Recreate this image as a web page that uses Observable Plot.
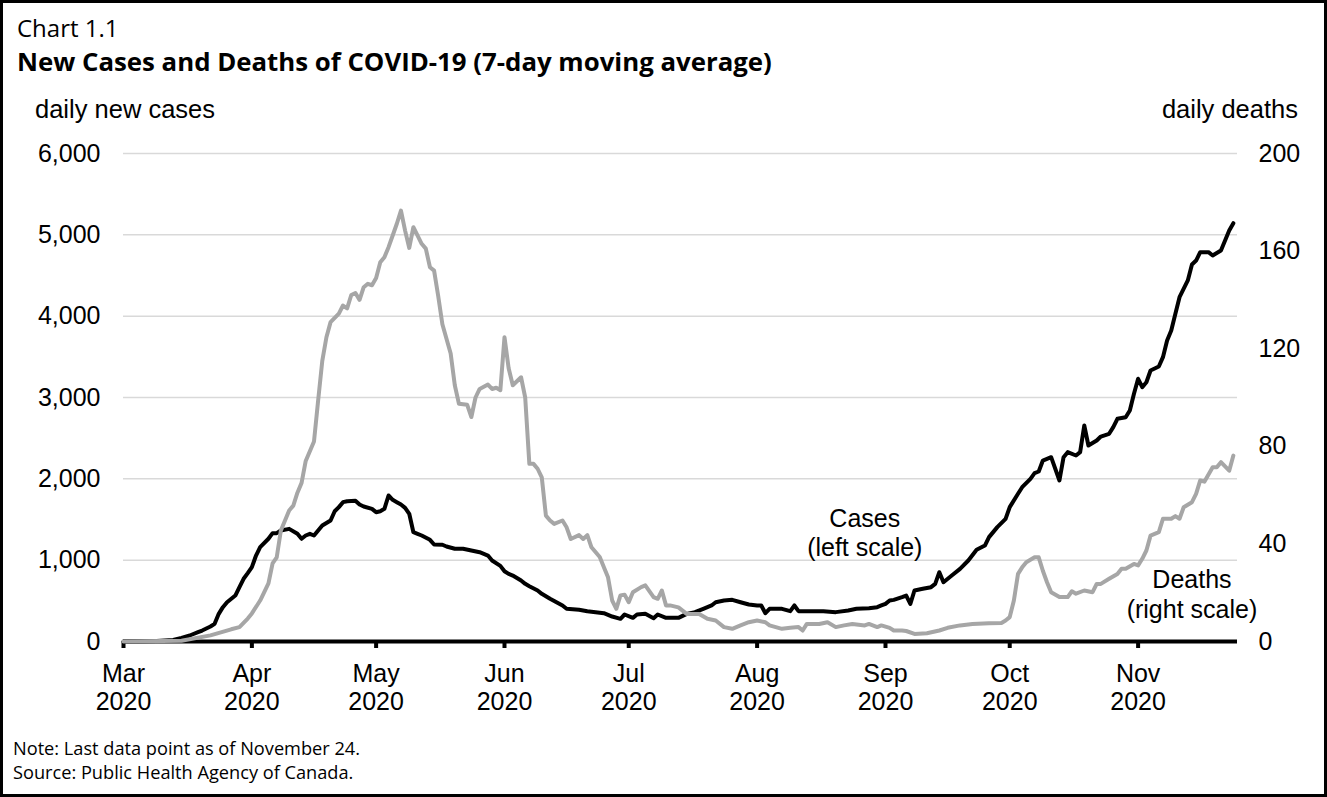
<!DOCTYPE html>
<html>
<head>
<meta charset="utf-8">
<script src="https://cdn.jsdelivr.net/npm/d3@7"></script>
<script src="https://cdn.jsdelivr.net/npm/@observablehq/plot@0.6"></script>
<style>
  body { margin: 0; background: #fff; }
  #page { position: relative; width: 1327px; height: 797px; overflow: hidden; background: #fff; }
  #frame { position: absolute; left: 0; top: 0; width: 1327px; height: 797px; box-sizing: border-box; border: 3px solid #000; z-index: 5; pointer-events: none; }
  .t { position: absolute; white-space: nowrap; line-height: 1; color: #000; }
  #chartno { left: 17px; top: 15.5px; font-family: "Open Sans", "Noto Sans", sans-serif; font-size: 24px; }
  #title { left: 17px; top: 49px; font-family: "Open Sans", "Noto Sans", sans-serif; font-size: 25.8px; font-weight: 700; }
  #ylabL { left: 35px; top: 97px; font-family: "Liberation Sans", Arial, sans-serif; font-size: 25.5px; }
  #ylabR { right: 29px; top: 97px; font-family: "Liberation Sans", Arial, sans-serif; font-size: 25.5px; }
  #notes { left: 13px; top: 736px; font-family: "Open Sans", "Noto Sans", sans-serif; font-size: 18.2px; line-height: 24px; }
  #plot { position: absolute; left: 0; top: 130px; }
</style>
</head>
<body>
<div id="page">
  <div id="frame"></div>
  <div class="t" id="chartno">Chart 1.1</div>
  <div class="t" id="title">New Cases and Deaths of COVID-19 (7-day moving average)</div>
  <div class="t" id="ylabL">daily new cases</div>
  <div class="t" id="ylabR">daily deaths</div>
  <div id="plot"></div>
  <div class="t" id="notes">Note: Last data point as of November 24.<br>Source: Public Health Agency of Canada.</div>
</div>
<script>
// ---- data ----
const year = 2020;

// daily new cases, 7-day moving average (left scale)
const cases = [
  ["03-01",0],["03-09",5],["03-13",20],["03-15",45],["03-17",74],["03-19",115],["03-20",135],
  ["03-22",184],["03-23",217],["03-24",340],["03-25",422],["03-26",483],["03-28",565],["03-29",668],
  ["03-30",771],["03-31",840],["04-01",914],["04-02",1057],["04-03",1160],["04-05",1263],["04-06",1332],
  ["04-07",1332],["04-08",1365],["04-10",1385],["04-12",1324],["04-13",1263],["04-14",1303],["04-15",1324],
  ["04-16",1303],["04-17",1365],["04-18",1426],["04-20",1488],["04-21",1602],["04-22",1652],["04-23",1713],
  ["04-24",1725],["04-26",1730],["04-27",1684],["04-28",1660],["04-30",1631],["05-01",1590],["05-02",1602],
  ["05-03",1631],["05-04",1795],["05-05",1742],["05-06",1713],["05-07",1684],["05-08",1643],["05-09",1570],
  ["05-10",1344],["05-11",1324],["05-12",1303],["05-14",1250],["05-15",1193],["05-17",1190],["05-18",1168],
  ["05-20",1140],["05-22",1140],["05-24",1119],["05-26",1098],["05-28",1057],["05-29",996],["05-31",930],
  ["06-01",864],["06-02",832],["06-03",811],["06-05",750],["06-06",709],["06-07",680],["06-09",627],
  ["06-10",586],["06-12",525],["06-15",443],["06-16",402],["06-19",390],["06-21",373],["06-23",361],
  ["06-25",348],["06-27",307],["06-29",279],["06-30",332],["07-02",291],["07-03",332],["07-05",340],
  ["07-07",287],["07-08",332],["07-10",291],["07-13",291],["07-15",340],["07-17",361],["07-19",402],
  ["07-21",443],["07-22",483],["07-24",504],["07-26",512],["07-28",483],["07-30",455],["08-01",443],
  ["08-02",443],["08-03",348],["08-04",402],["08-07",402],["08-09",373],["08-10",443],["08-11",373],
  ["08-14",373],["08-17",373],["08-20",361],["08-23",381],["08-25",402],["08-28",410],["08-30",422],
  ["08-31",443],["09-01",463],["09-02",504],["09-03",512],["09-05",545],["09-06",565],["09-07",463],
  ["09-08",627],["09-10",648],["09-12",668],["09-13",709],["09-14",852],["09-15",729],["09-17",811],
  ["09-19",893],["09-21",996],["09-23",1127],["09-25",1180],["09-26",1283],["09-28",1406],["09-30",1508],
  ["10-01",1652],["10-03",1816],["10-04",1897],["10-06",2000],["10-07",2070],["10-08",2090],["10-09",2225],
  ["10-11",2266],["10-13",1980],["10-14",2266],["10-15",2328],["10-17",2287],["10-18",2328],["10-19",2656],
  ["10-20",2410],["10-22",2471],["10-23",2520],["10-25",2554],["10-26",2635],["10-27",2738],["10-29",2758],
  ["10-30",2840],["10-31",3045],["11-01",3230],["11-02",3127],["11-03",3188],["11-04",3332],["11-06",3381],
  ["11-07",3496],["11-08",3701],["11-09",3824],["11-10",4029],["11-11",4233],["11-13",4439],["11-14",4635],
  ["11-15",4684],["11-16",4787],["11-18",4787],["11-19",4746],["11-21",4807],["11-22",4930],["11-23",5053],
  ["11-24",5143]
];

// daily deaths, 7-day moving average (right scale)
const deaths = [
  ["03-01",0],["03-15",0.3],["03-22",2.5],["03-27",5],["03-29",5.9],["03-31",9.4],["04-01",11.5],
  ["04-03",16.8],["04-05",23.8],["04-06",32],["04-07",34.5],["04-08",45.5],["04-10",53.7],["04-11",55.7],
  ["04-12",61],["04-13",65],["04-14",74],["04-16",82],["04-17",98.8],["04-18",115],["04-19",124.7],
  ["04-20",130.9],["04-22",134.4],["04-23",137.7],["04-24",136.5],["04-25",142],["04-26",142.8],["04-27",140],
  ["04-28",145.2],["04-29",146.6],["04-30",146],["05-01",149],["05-02",155.4],["05-03",157.5],["05-04",161.6],
  ["05-05",166.4],["05-06",171.2],["05-07",176.6],["05-08",168.4],["05-09",161.3],["05-10",169.8],["05-12",163],
  ["05-13",161],["05-14",153.4],["05-15",152],["05-16",141.5],["05-17",130],["05-19",118],["05-20",105],
  ["05-21",97.4],["05-23",97],["05-24",92],["05-25",100],["05-26",103.5],["05-28",105.3],["05-29",103.5],
  ["05-30",104],["05-31",103],["06-01",124.7],["06-02",112],["06-03",105],["06-05",108.3],["06-06",100],
  ["06-07",72.8],["06-08",72.8],["06-09",70.8],["06-10",67.3],["06-11",51.6],["06-12",49.6],["06-13",48.2],
  ["06-15",49.6],["06-16",46.8],["06-17",42],["06-19",43.6],["06-20",42],["06-21",43.6],["06-22",38.6],
  ["06-24",34.6],["06-25",30.4],["06-26",26.3],["06-27",16.8],["06-28",13.4],["06-29",18.9],["06-30",19.2],
  ["07-01",16.1],["07-02",20.2],["07-04",22.3],["07-05",23],["07-07",18.2],["07-08",17.5],["07-09",20.9],
  ["07-10",14.8],["07-11",14.8],["07-13",14],["07-15",11.3],["07-18",11.3],["07-20",9.3],["07-22",8.6],
  ["07-24",5.9],["07-26",5.2],["07-28",6.6],["07-30",7.9],["08-01",8.6],["08-03",7.9],["08-04",6.6],
  ["08-07",5.2],["08-09",5.6],["08-11",5.9],["08-12",4.5],["08-13",7.2],["08-16",7.2],["08-18",7.9],
  ["08-20",5.9],["08-22",6.6],["08-24",7.2],["08-27",6.6],["08-28",7.2],["08-30",5.9],["08-31",6.6],
  ["09-02",5.6],["09-03",4.5],["09-05",4.5],["09-06",4.3],["09-08",3.1],["09-11",3.4],["09-14",4.5],
  ["09-16",5.6],["09-19",6.6],["09-22",7.2],["09-26",7.5],["09-29",7.6],["09-30",8.6],["10-01",10],
  ["10-02",16.8],["10-03",27.7],["10-04",30.4],["10-05",32.5],["10-07",34.5],["10-08",34.5],["10-09",29],
  ["10-10",24.3],["10-11",20.2],["10-13",18.2],["10-15",18.2],["10-16",20.6],["10-17",19.6],["10-19",20.9],
  ["10-21",20.2],["10-22",23.6],["10-23",23.6],["10-25",25.7],["10-27",27.7],["10-28",29.8],["10-29",29.8],
  ["10-31",31.8],["11-01",31.2],["11-02",33.9],["11-03",37.3],["11-04",43.4],["11-06",44.8],["11-07",50.3],
  ["11-09",50.3],["11-10",51.4],["11-11",50.3],["11-12",55],["11-14",57.1],["11-15",60.5],["11-16",66],
  ["11-17",65.5],["11-19",71.4],["11-20",71.4],["11-21",73.5],["11-23",70],["11-24",76.2]
];

// axis ticks and labels
const leftTicks = [0, 1000, 2000, 3000, 4000, 5000, 6000];
const rightTicks = [0, 40, 80, 120, 160, 200];
const monthTicks = ["03-01","04-01","05-01","06-01","07-01","08-01","09-01","10-01","11-01"];
const monthNames = ["Mar","Apr","May","Jun","Jul","Aug","Sep","Oct","Nov"];
const xDomain = ["03-01", "11-25"];
const leftMax = 6000, rightMax = 200;

// in-chart series labels (positioned in left-scale units)
const annotations = [
  {date: "08-27", value: 1340, label: "Cases\n(left scale)"},
  {date: "11-14", value: 588, label: "Deaths\n(right scale)"}
];

// ---- build ----
const toDate = md => new Date(`${year}-${md}T00:00:00Z`);
const ratio = leftMax / rightMax;
const caseData = cases.map(([d, v]) => ({date: toDate(d), value: v}));
const deathData = deaths.map(([d, v]) => ({date: toDate(d), value: v}));
const tickDates = monthTicks.map(toDate);
const tickLabel = new Map(tickDates.map((d, i) => [+d, `${monthNames[i]}\n${year}`]));
const annData = annotations.map(a => ({...a, date: toDate(a.date)}));

const chart = Plot.plot({
  width: 1327,
  height: 600,
  marginTop: 23,
  marginBottom: 89,
  marginLeft: 123,
  marginRight: 90,
  style: {fontFamily: "'Liberation Sans', Arial, sans-serif", fontSize: "25px", color: "#000", background: "transparent", overflow: "visible"},
  x: {type: "utc", domain: xDomain.map(toDate)},
  y: {domain: [0, leftMax]},
  marks: [
    Plot.gridY(leftTicks, {stroke: "#d9d9d9", strokeOpacity: 1, strokeWidth: 1.5}),
    Plot.axisY(leftTicks, {anchor: "left", tickSize: 0, tickPadding: 23, tickFormat: d3.format(","), fontSize: 25, label: null}),
    Plot.axisY(rightTicks.map(v => v * ratio), {anchor: "right", tickSize: 0, tickPadding: 21, tickFormat: v => String(Math.round(v / ratio)), fontSize: 25, label: null}),
    Plot.ruleY([0], {stroke: "#000", strokeWidth: 4}),
    Plot.axisX(tickDates, {tickSize: 7, strokeWidth: 4, tickPadding: 14, tickFormat: d => tickLabel.get(+d), fontSize: 25, lineHeight: 1.12, label: null}),
    Plot.line(caseData, {x: "date", y: "value", stroke: "#000", strokeWidth: 4, strokeLinejoin: "round", strokeLinecap: "round"}),
    Plot.line(deathData, {x: "date", y: d => d.value * ratio, stroke: "#a6a6a6", strokeWidth: 4, strokeLinejoin: "round", strokeLinecap: "round"}),
    Plot.text(annData, {x: "date", y: "value", text: "label", textAnchor: "middle", lineAnchor: "middle", lineHeight: 1.17, fontSize: 25, fill: "#000"})
  ]
});
document.getElementById("plot").appendChild(chart);
</script>
</body>
</html>
